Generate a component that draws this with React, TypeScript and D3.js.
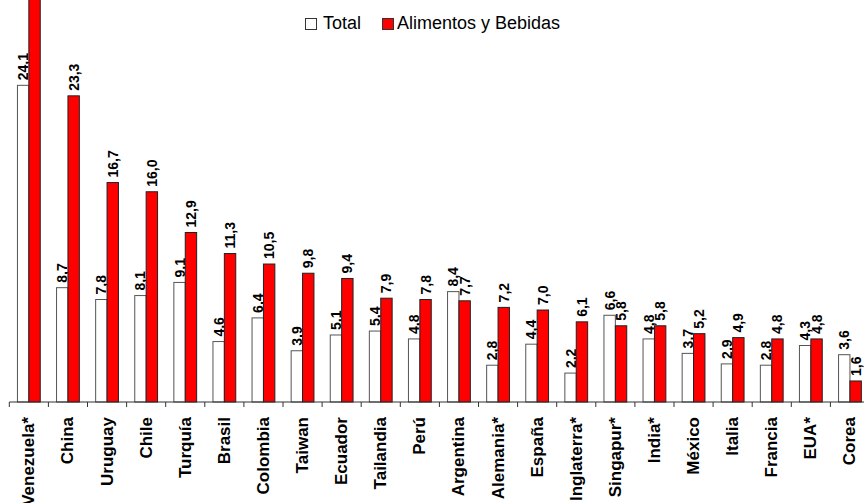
import React from 'react';
import * as d3 from 'd3';

// countries, in the order of the chart
const countries = [
  'Venezuela*', 'China', 'Uruguay', 'Chile', 'Turquía', 'Brasil', 'Colombia',
  'Taiwan', 'Ecuador', 'Tailandia', 'Perú', 'Argentina', 'Alemania*', 'España',
  'Inglaterra*', 'Singapur*', 'India*', 'México', 'Italia', 'Francia', 'EUA*', 'Corea',
];
// Total
const totalValues = [
  24.1, 8.7, 7.8, 8.1, 9.1, 4.6, 6.4, 3.9, 5.1, 5.4, 4.8, 8.4, 2.8, 4.4, 2.2,
  6.6, 4.8, 3.7, 2.9, 2.8, 4.3, 3.6,
];
// Alimentos y Bebidas (Venezuela goes off the top of the picture)
const foodValues = [
  32.0, 23.3, 16.7, 16.0, 12.9, 11.3, 10.5, 9.8, 9.4, 7.9, 7.8, 7.7, 7.2, 7.0,
  6.1, 5.8, 5.8, 5.2, 4.9, 4.8, 4.8, 1.6,
];
const seriesNames = ['Total', 'Alimentos y Bebidas'];

const W = 864;
const H = 503;
const FONT = '"Liberation Sans", Arial, sans-serif';

const fmt = (v: number) => v.toFixed(1).replace('.', ',');

const App = () => {
  const x = d3.scaleBand<string>().domain(countries).range([9.3, 869.5]).padding(0);
  const y = d3.scaleLinear().domain([0, 30]).range([402, 402 - 30 * 13.14]);
  const barW = 11.4;
  const base = y(0);

  const series = [
    { name: seriesNames[0], values: totalValues, fill: '#ffffff', stroke: '#555555', dx: -barW },
    { name: seriesNames[1], values: foodValues, fill: '#ff0000', stroke: '#222222', dx: 0 },
  ];

  return (
    <svg
      width={W}
      height={H}
      style={{ position: 'absolute', left: 0, top: 0, background: '#fff', fontFamily: FONT }}
    >
      {series.map(s => (
        <g key={s.name}>
          {countries.map((c, i) => {
            const cx = x(c)! + x.bandwidth() / 2;
            const top = y(s.values[i]);
            return (
              <g key={c}>
                <rect
                  x={cx + s.dx}
                  y={top}
                  width={barW}
                  height={base - top}
                  fill={s.fill}
                  stroke={s.stroke}
                  strokeWidth={1}
                />
                {top > 40 && (
                  <text
                    transform={`translate(${cx + s.dx + barW / 2},${top - 5}) rotate(-90)`}
                    fontSize={14}
                    fontWeight="bold"
                    dominantBaseline="central"
                    fill="#000"
                  >
                    {fmt(s.values[i])}
                  </text>
                )}
              </g>
            );
          })}
        </g>
      ))}

      {/* category axis */}
      <line x1={x.range()[0]} x2={W} y1={base} y2={base} stroke="#333" strokeWidth={1} />
      {countries.map(c => (
        <line key={'t' + c} x1={x(c)!} x2={x(c)!} y1={base} y2={base + 5} stroke="#333" strokeWidth={1} />
      ))}
      {countries.map(c => (
        <text
          key={'l' + c}
          transform={`translate(${x(c)! + x.bandwidth() / 2},${base + 15}) rotate(-90)`}
          textAnchor="end"
          dominantBaseline="central"
          fontSize={17}
          fontWeight="bold"
          fill="#000"
        >
          {c}
        </text>
      ))}

      {/* legend */}
      <g transform="translate(305,18)">
        <rect x={0.5} y={0.5} width={11} height={11} fill="#fff" stroke="#333" />
        <text x={18} y={11} fontSize={18} fill="#000">{seriesNames[0]}</text>
        <rect x={77.5} y={0.5} width={11} height={11} fill="#ff0000" stroke="#333" />
        <text x={92} y={11} fontSize={18} fill="#000">{seriesNames[1]}</text>
      </g>
    </svg>
  );
};

export default App;
